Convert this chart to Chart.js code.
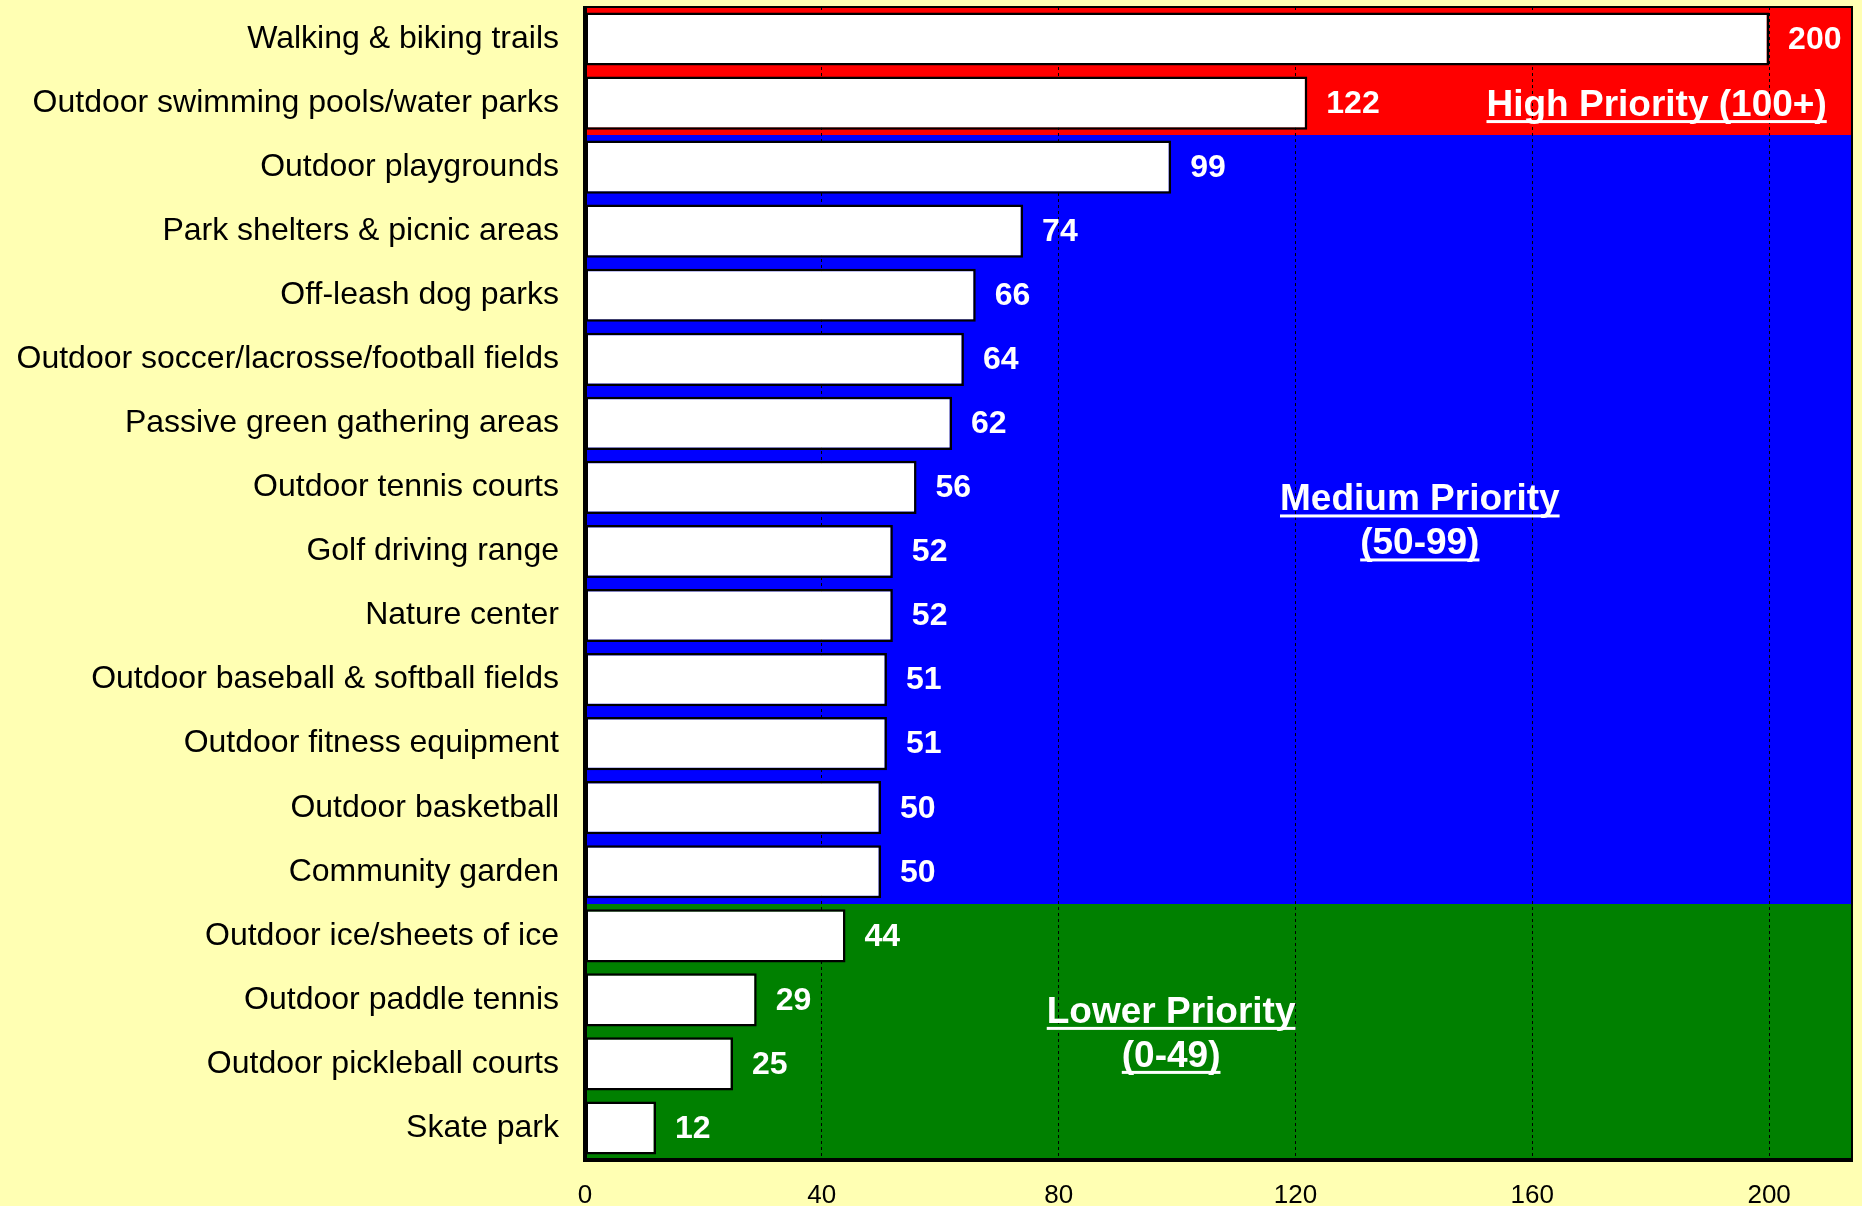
<!DOCTYPE html>
<html>
<head>
<meta charset="utf-8">
<script src="https://cdn.jsdelivr.net/npm/chart.js@4.4.1/dist/chart.umd.min.js"></script>
<style>
    html, body { margin: 0; padding: 0; background: #FFFFB3; }
    canvas { display: block; }
</style>
</head>
<body>
<canvas id="chart" width="1862" height="1206"></canvas>
<script>
const categories = [
    "Walking & biking trails",
    "Outdoor swimming pools/water parks",
    "Outdoor playgrounds",
    "Park shelters & picnic areas",
    "Off-leash dog parks",
    "Outdoor soccer/lacrosse/football fields",
    "Passive green gathering areas",
    "Outdoor tennis courts",
    "Golf driving range",
    "Nature center",
    "Outdoor baseball & softball fields",
    "Outdoor fitness equipment",
    "Outdoor basketball",
    "Community garden",
    "Outdoor ice/sheets of ice",
    "Outdoor paddle tennis",
    "Outdoor pickleball courts",
    "Skate park"
];
const scores = [200, 122, 99, 74, 66, 64, 62, 56, 52, 52, 51, 51, 50, 50, 44, 29, 25, 12];
const xTicks = [0, 40, 80, 120, 160, 200];
const priorityMins = [100, 50, 0];
const priorityTexts = [
    ["High Priority (100+)"],
    ["Medium Priority", "(50-99)"],
    ["Lower Priority", "(0-49)"]
];

const AXIS_MAX = 214;
const bandColors = ["#FF0000", "#0000FF", "#008000"];
// where each priority caption sits, in axis units (value, row index)
const captionSpots = [[181, 1], [141, 7.5], [99, 15.5]];

function priorityOf(score) {
    return priorityMins.findIndex(min => score >= min);
}

const bandsPlugin = {
    id: "bands",
    beforeDraw(chart) {
        const {ctx, chartArea} = chart;
        const y = chart.scales.y;
        ctx.save();
        ctx.fillStyle = "#FFFFB3";
        ctx.fillRect(0, 0, chart.width, chart.height);
        scores.forEach((score, i) => {
            const top = Math.round(y.getPixelForValue(i - 0.5));
            const bottom = Math.round(y.getPixelForValue(i + 0.5));
            ctx.fillStyle = bandColors[priorityOf(score)];
            ctx.fillRect(chartArea.left, top, chartArea.right - chartArea.left, bottom - top);
        });
        ctx.restore();
    },
    afterDatasetsDraw(chart) {
        const {ctx} = chart;
        const meta = chart.getDatasetMeta(0);
        ctx.save();
        ctx.fillStyle = "#FFFFFF";
        ctx.font = "bold 32px 'Liberation Sans', Arial, sans-serif";
        ctx.textAlign = "left";
        ctx.textBaseline = "middle";
        meta.data.forEach((bar, i) => {
            ctx.fillText(String(scores[i]), bar.x + 19, bar.y + 1);
        });

        // priority captions
        const x = chart.scales.x, y = chart.scales.y;
        ctx.font = "bold 37px 'Liberation Sans', Arial, sans-serif";
        ctx.textAlign = "center";
        ctx.textBaseline = "alphabetic";
        const lineGap = 44;
        priorityTexts.forEach((lines, p) => {
            const cx = x.getPixelForValue(captionSpots[p][0]);
            const cy = y.getPixelForValue(captionSpots[p][1]);
            const firstMid = cy - (lines.length - 1) * lineGap / 2;
            lines.forEach((line, k) => {
                const base = firstMid + k * lineGap + 13;
                ctx.fillText(line, cx, base);
                const w = ctx.measureText(line).width;
                ctx.fillRect(cx - w / 2, base + 4, w, 3);
            });
        });
        ctx.restore();
    },
    afterDraw(chart) {
        const {ctx, chartArea} = chart;
        ctx.save();
        ctx.strokeStyle = "#000000";
        ctx.lineWidth = 2;
        ctx.strokeRect(chartArea.left, chartArea.top, chartArea.right - chartArea.left, chartArea.bottom - chartArea.top);
        ctx.lineWidth = 4;
        ctx.beginPath();
        ctx.moveTo(chartArea.left, chartArea.top - 1);
        ctx.lineTo(chartArea.left, chartArea.bottom);
        ctx.lineTo(chartArea.right + 1, chartArea.bottom);
        ctx.stroke();
        ctx.restore();
    }
};

new Chart(document.getElementById("chart"), {
    type: "bar",
    data: {
        labels: categories,
        datasets: [{
            data: scores,
            backgroundColor: "#FFFFFF",
            borderColor: "#000000",
            borderWidth: 2.5,
            borderSkipped: false,
            barPercentage: 0.83,
            categoryPercentage: 1
        }]
    },
    options: {
        indexAxis: "y",
        responsive: false,
        animation: false,
        devicePixelRatio: 1,
        layout: {
            padding: {top: 7, right: 10, left: 0, bottom: 0}
        },
        plugins: {
            legend: {display: false},
            tooltip: {enabled: false}
        },
        scales: {
            x: {
                min: 0,
                max: AXIS_MAX,
                afterBuildTicks: scale => {
                    scale.ticks = xTicks.map(v => ({value: v}));
                },
                afterFit: scale => {
                    scale.height = 46;
                    scale.paddingLeft = 0;
                    scale.paddingRight = 0;
                },
                grid: {
                    color: "#000000",
                    lineWidth: 1,
                    drawTicks: false
                },
                border: {display: false, dash: [3, 3]},
                ticks: {
                    color: "#000000",
                    padding: 20,
                    maxRotation: 0,
                    font: {family: "'Liberation Sans', Arial, sans-serif", size: 26}
                }
            },
            y: {
                afterFit: scale => {
                    scale.width = 585;
                    scale.paddingTop = 0;
                    scale.paddingBottom = 0;
                },
                grid: {display: false, drawTicks: false},
                border: {display: false},
                ticks: {
                    color: "#000000",
                    padding: 26,
                    autoSkip: false,
                    font: {family: "'Liberation Sans', Arial, sans-serif", size: 32}
                }
            }
        }
    },
    plugins: [bandsPlugin]
});
</script>
</body>
</html>
